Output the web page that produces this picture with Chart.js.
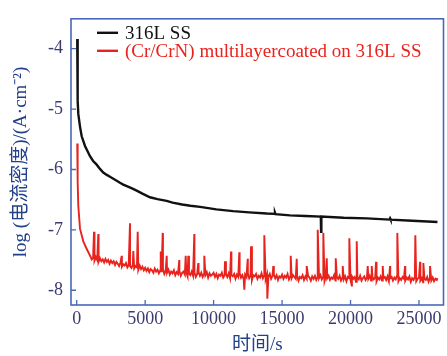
<!DOCTYPE html>
<html>
<head>
<meta charset="utf-8">
<script src="https://cdn.jsdelivr.net/npm/chart.js@4.4.1/dist/chart.umd.min.js"></script>
<style>
html,body{margin:0;padding:0;background:#fff;}
#wrap{width:447px;height:356px;}
</style>
</head>
<body>
<div id="wrap"><canvas id="c" width="447" height="356"></canvas></div>
<script>
// ---- data ----
const seriesNames = ['316L SS', '(Cr/CrN) multilayercoated on 316L SS'];
const xTicks = [0, 5000, 10000, 15000, 20000, 25000];
const yTicks = [-8, -7, -6, -5, -4];

const blackT = [40, 60, 80, 117, 241, 365, 606, 971, 1200, 1460, 1700, 1940, 2200, 2430, 2800, 3160, 3400, 3700, 4000, 4380, 4800, 5350, 5900, 6570, 7000, 7700, 8300, 9010, 10200, 11420, 12600, 13880, 14440, 14480, 14520, 15580, 16700, 17830, 17850, 17870, 19500, 21180, 22850, 22890, 22930, 24500, 26350];
const blackV = [-3.84, -4.3, -4.86, -5.08, -5.29, -5.45, -5.61, -5.78, -5.86, -5.92, -5.99, -6.05, -6.09, -6.12, -6.17, -6.22, -6.25, -6.28, -6.31, -6.35, -6.40, -6.46, -6.49, -6.52, -6.55, -6.58, -6.60, -6.62, -6.66, -6.69, -6.71, -6.73, -6.735, -6.715, -6.74, -6.76, -6.77, -6.78, -7.03, -6.78, -6.80, -6.81, -6.83, -6.81, -6.83, -6.85, -6.87];

const redHeadT = [40, 70, 117, 241, 482, 700];
const redHeadV = [-5.57, -6.2, -6.6, -6.98, -7.19, -7.3];

const redT = [
 1000,1100,1200,1300,1400,1500,1600,1700,1800,1900,
 2000,2100,2200,2300,2400,2500,2600,2700,2800,2900,
 3000,3100,3200,3300,3400,3500,3600,3700,3800,3900,
 4000,4100,4200,4300,4400,4500,4600,4700,4800,4900,
 5000,5100,5200,5300,5400,5500,5600,5700,5800,5900,
 6000,6100,6200,6300,6400,6500,6600,6700,6800,6900,
 7000,7100,7200,7300,7400,7500,7600,7700,7800,7900,
 8000,8100,8200,8300,8400,8500,8600,8700,8800,8900,
 9000,9100,9200,9300,9400,9500,9600,9700,9800,9900,
 10000,10100,10200,10300,10400,10500,10600,10700,10800,10900,
 11000,11100,11200,11300,11400,11500,11600,11700,11800,11900,
 12000,12100,12200,12300,12400,12500,12600,12700,12800,12900,
 13000,13100,13200,13300,13400,13500,13600,13700,13800,13900,
 14000,14100,14200,14300,14400,14500,14600,14700,14800,14900,
 15000,15100,15200,15300,15400,15500,15600,15700,15800,15900,
 16000,16100,16200,16300,16400,16500,16600,16700,16800,16900,
 17000,17100,17200,17300,17400,17500,17600,17700,17800,17900,
 18000,18100,18200,18300,18400,18500,18600,18700,18800,18900,
 19000,19100,19200,19300,19400,19500,19600,19700,19800,19900,
 20000,20100,20200,20300,20400,20500,20600,20700,20800,20900,
 21000,21100,21200,21300,21400,21500,21600,21700,21800,21900,
 22000,22100,22200,22300,22400,22500,22600,22700,22800,22900,
 23000,23100,23200,23300,23400,23500,23600,23700,23800,23900,
 24000,24100,24200,24300,24400,24500,24600,24700,24800,24900,
 25000,25100,25200,25300,25400,25500,25600,25700,25800,25900,
 26000,26100,26200,26300,26350];
const redV = [
 -7.44,-7.49,-7.46,-7.51,-7.45,-7.50,-7.53,-7.47,-7.52,-7.49,
 -7.54,-7.48,-7.53,-7.50,-7.56,-7.51,-7.55,-7.52,-7.58,-7.53,
 -7.56,-7.60,-7.54,-7.61,-7.57,-7.59,-7.55,-7.62,-7.58,-7.60,
 -7.63,-7.58,-7.64,-7.60,-7.62,-7.66,-7.59,-7.65,-7.61,-7.67,
 -7.63,-7.68,-7.64,-7.70,-7.65,-7.67,-7.71,-7.64,-7.69,-7.66,
 -7.72,-7.67,-7.70,-7.65,-7.73,-7.68,-7.71,-7.66,-7.74,-7.69,
 -7.72,-7.67,-7.75,-7.70,-7.73,-7.68,-7.76,-7.71,-7.69,-7.74,
 -7.70,-7.77,-7.72,-7.75,-7.69,-7.76,-7.71,-7.78,-7.73,-7.70,
 -7.76,-7.71,-7.78,-7.73,-7.75,-7.70,-7.79,-7.72,-7.76,-7.74,
 -7.71,-7.78,-7.73,-7.80,-7.74,-7.76,-7.71,-7.79,-7.75,-7.73,
 -7.78,-7.72,-7.80,-7.75,-7.77,-7.73,-7.81,-7.74,-7.78,-7.72,
 -7.79,-7.75,-7.82,-7.74,-7.78,-7.72,-7.80,-7.76,-7.83,-7.75,
 -7.77,-7.73,-7.81,-7.76,-7.79,-7.72,-7.80,-7.75,-7.82,-7.74,
 -7.78,-7.73,-7.81,-7.76,-7.74,-7.80,-7.75,-7.83,-7.77,-7.79,
 -7.74,-7.81,-7.76,-7.79,-7.73,-7.82,-7.77,-7.80,-7.75,-7.78,
 -7.81,-7.76,-7.84,-7.78,-7.80,-7.75,-7.83,-7.77,-7.81,-7.76,
 -7.79,-7.84,-7.77,-7.81,-7.76,-7.83,-7.78,-7.80,-7.75,-7.82,
 -7.78,-7.85,-7.77,-7.80,-7.76,-7.83,-7.79,-7.81,-7.75,-7.84,
 -7.78,-7.81,-7.76,-7.84,-7.79,-7.82,-7.77,-7.85,-7.78,-7.80,
 -7.83,-7.77,-7.81,-7.78,-7.86,-7.79,-7.82,-7.76,-7.84,-7.80,
 -7.77,-7.83,-7.79,-7.81,-7.76,-7.84,-7.78,-7.82,-7.79,-7.85,
 -7.79,-7.82,-7.77,-7.84,-7.80,-7.78,-7.83,-7.77,-7.85,-7.80,
 -7.78,-7.84,-7.79,-7.82,-7.76,-7.85,-7.80,-7.83,-7.78,-7.81,
 -7.84,-7.79,-7.82,-7.77,-7.86,-7.80,-7.83,-7.78,-7.85,-7.81,
 -7.79,-7.84,-7.80,-7.87,-7.81,-7.83,-7.78,-7.86,-7.80,-7.84,
 -7.79,-7.85,-7.81,-7.83,-7.80];

const spikeT = [1264, 1578, 3287, 3893, 4134, 4456, 6136, 6282, 6574, 7494, 7962, 8152, 8590, 8882, 9320, 10833, 11271, 11877, 12242, 12491, 12732, 13703, 13923, 14361, 15632, 16070, 16800, 17604, 18013, 18261, 18919, 19430, 19912, 20088, 20453, 21256, 21549, 21863, 22352, 22885, 23418, 23981, 24733, 25077, 25318, 25808];
const spikeV = [-7.03, -7.07, -7.43, -6.89, -7.35, -7.03, -7.36, -7.05, -7.43, -7.50, -7.43, -7.43, -7.07, -7.55, -7.43, -7.52, -7.36, -7.37, -7.99, -7.48, -7.27, -7.09, -8.14, -7.60, -7.43, -7.48, -7.60, -7.00, -7.05, -7.47, -7.47, -7.60, -7.14, -7.92, -7.19, -7.60, -7.60, -7.53, -7.60, -7.60, -7.05, -7.60, -7.09, -7.53, -7.55, -7.60];

// ---- build datasets ----
const blackData = blackT.map((t, i) => ({x: t, y: blackV[i]}));
const redData = []
  .concat(redHeadT.map((t, i) => ({x: t, y: redHeadV[i]})))
  .concat(redT.map((t, i) => ({x: t, y: redV[i]})))
  .concat(spikeT.map((t, i) => ({x: t, y: spikeV[i]})))
  .sort((a, b) => a.x - b.x);

const SERIF = '"Liberation Serif", "Times New Roman", serif';
const CJK = '"Liberation Serif", "Noto Sans CJK SC", serif';
const tickColor = '#3b3b70';
const titleColor = '#23418a';
const frameColor = '#4a68b8';
const colors = ['#111111', '#e8221c'];

const deco = {
  id: 'deco',
  afterDraw(chart) {
    const {ctx, chartArea: a, scales: {x, y}} = chart;
    ctx.save();
    ctx.strokeStyle = frameColor;
    ctx.lineWidth = 1.6;
    ctx.strokeRect(a.left, a.top, a.right - a.left, a.bottom - a.top);
    ctx.lineWidth = 1.3;
    ctx.beginPath();
    y.ticks.forEach(t => { const py = y.getPixelForValue(t.value); ctx.moveTo(a.left, py); ctx.lineTo(a.left + 5, py); });
    x.ticks.forEach(t => { const px = x.getPixelForValue(t.value); ctx.moveTo(px, a.bottom); ctx.lineTo(px, a.bottom - 5); });
    ctx.stroke();
    // legend
    ctx.font = '19px ' + SERIF;
    ctx.textBaseline = 'middle';
    ctx.textAlign = 'left';
    chart.data.datasets.forEach((ds, i) => {
      const ly = a.top + 14 + i * 18;
      ctx.strokeStyle = ds.borderColor;
      ctx.lineWidth = 2.4;
      ctx.beginPath();
      ctx.moveTo(a.left + 26, ly);
      ctx.lineTo(a.left + 47, ly);
      ctx.stroke();
      ctx.fillStyle = i === 0 ? '#111111' : ds.borderColor;
      ctx.fillText(ds.label, a.left + 54, ly + 1);
    });
    ctx.restore();
  }
};

new Chart(document.getElementById('c'), {
  type: 'line',
  data: {
    datasets: [
      {label: seriesNames[0], data: blackData, borderColor: colors[0], borderWidth: 2.4, pointRadius: 0, tension: 0, fill: false},
      {label: seriesNames[1], data: redData, borderColor: colors[1], borderWidth: 1.9, pointRadius: 0, tension: 0, fill: false}
    ]
  },
  options: {
    responsive: false,
    animation: false,
    devicePixelRatio: 1,
    layout: {padding: {top: 13, right: 3.5, left: 0, bottom: 0}},
    plugins: {legend: {display: false}, tooltip: {enabled: false}},
    scales: {
      x: {
        type: 'linear',
        min: -416, max: 26790,
        grid: {display: false, drawTicks: false},
        border: {display: false},
        afterFit: s => { s.height = 51; },
        afterBuildTicks: s => { s.ticks = xTicks.map(v => ({value: v})); },
        ticks: {color: tickColor, font: {family: SERIF, size: 18}, padding: 3, maxRotation: 0, callback: v => String(v)},
        title: {display: true, text: '时间/s', color: titleColor, font: {family: CJK, size: 19, lineHeight: 1}, padding: {top: 0, bottom: 1}}
      },
      y: {
        type: 'linear',
        min: -8.244, max: -3.505,
        grid: {display: false, drawTicks: false},
        border: {display: false},
        afterFit: s => { s.width = 71; },
        afterBuildTicks: s => { s.ticks = yTicks.map(v => ({value: v})); },
        ticks: {color: tickColor, font: {family: SERIF, size: 18}, padding: 8, callback: v => String(v)},
        title: {display: true, text: 'log (电流密度)/(A·cm⁻²)', color: titleColor, font: {family: CJK, size: 19, lineHeight: 1.2}, padding: {top: 10, bottom: 0}}
      }
    }
  },
  plugins: [deco]
});
</script>
</body>
</html>
